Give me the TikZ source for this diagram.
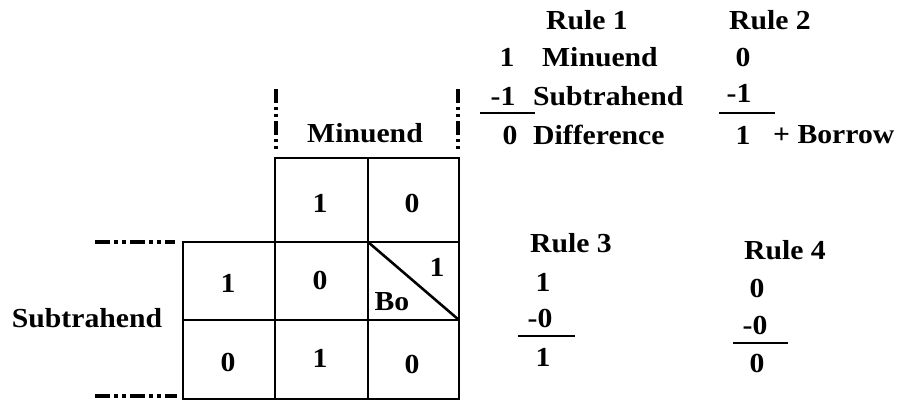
\documentclass[tikz,border=0pt]{standalone}
\usepackage{fontspec}
\setmainfont[FakeStretch=1.08]{Liberation Serif}
\begin{document}
\begin{tikzpicture}[x=1pt,y=-1pt,
  txt/.style={inner sep=0pt,font=\fontsize{27.5}{30}\selectfont\bfseries},
  grid/.style={line width=2.6pt},
  vdash/.style={line width=3.8pt,dash pattern=on 14pt off 4pt on 3pt off 4pt on 3pt off 4pt},
  hdash/.style={line width=3.8pt,dash pattern=on 15pt off 4pt on 4pt off 4pt on 4pt off 4pt},
  rule/.style={line width=2.6pt}]
\useasboundingbox (0,0) rectangle (902,402);
% grid
\draw[grid] (275,158) rectangle (459,399);
\draw[grid] (183,242) rectangle (275,399);
\draw[grid] (368,158) -- (368,399);
\draw[grid] (183,242) -- (459,242);
\draw[grid] (183,320) -- (459,320);
\draw[grid] (368,242) -- (459,320);
% dashed markers
\draw[vdash] (276,89) -- (276,152);
\draw[vdash] (458,89) -- (458,152);
\draw[hdash] (95,242) -- (175,242);
\draw[hdash] (95,396) -- (177,396);
% labels
\node[txt] (mi) at (365,133) {Minuend};
\node[txt] (su) at (87,318) {Subtrahend};
% cells
\node[txt] (c12) at (320,203) {1};
\node[txt] (c13) at (412,203) {0};
\node[txt] (c21) at (228,283) {1};
\node[txt] (c22) at (320,280) {0};
\node[txt] (c23a) at (437,267) {1};
\node[txt] (c23b) at (392,302) {Bo};
\node[txt] (c31) at (228,362) {0};
\node[txt] (c32) at (320,358) {1};
\node[txt] (c33) at (412,364) {0};
% Rule 1
\node[txt] (r1) at (587,20) {Rule 1};
\node[txt] (r1a) at (507,57) {1};
\node[txt,anchor=west] (r1al) at (542,57) {Minuend};
\node[txt] (r1b) at (503,96) {-1};
\node[txt,anchor=west] (r1bl) at (533,96) {Subtrahend};
\draw[rule] (480,113) -- (535,113);
\node[txt] (r1c) at (510,135) {0};
\node[txt,anchor=west] (r1cl) at (533,135) {Difference};
% Rule 2
\node[txt] (r2) at (770,20) {Rule 2};
\node[txt] (r2a) at (743,57) {0};
\node[txt] (r2b) at (739,93) {-1};
\draw[rule] (719,113) -- (775,113);
\node[txt] (r2c) at (743,135) {1};
\node[txt,anchor=west] (r2cl) at (773,135) {+ Borrow};
% Rule 3
\node[txt] (r3) at (571,243) {Rule 3};
\node[txt] (r3a) at (543,282) {1};
\node[txt] (r3b) at (540,318) {-0};
\draw[rule] (518,336) -- (575,336);
\node[txt] (r3c) at (543,357) {1};
% Rule 4
\node[txt] (r4) at (785,250) {Rule 4};
\node[txt] (r4a) at (757,288) {0};
\node[txt] (r4b) at (755,325) {-0};
\draw[rule] (733,343) -- (788,343);
\node[txt] (r4c) at (757,363) {0};
\end{tikzpicture}
\end{document}
